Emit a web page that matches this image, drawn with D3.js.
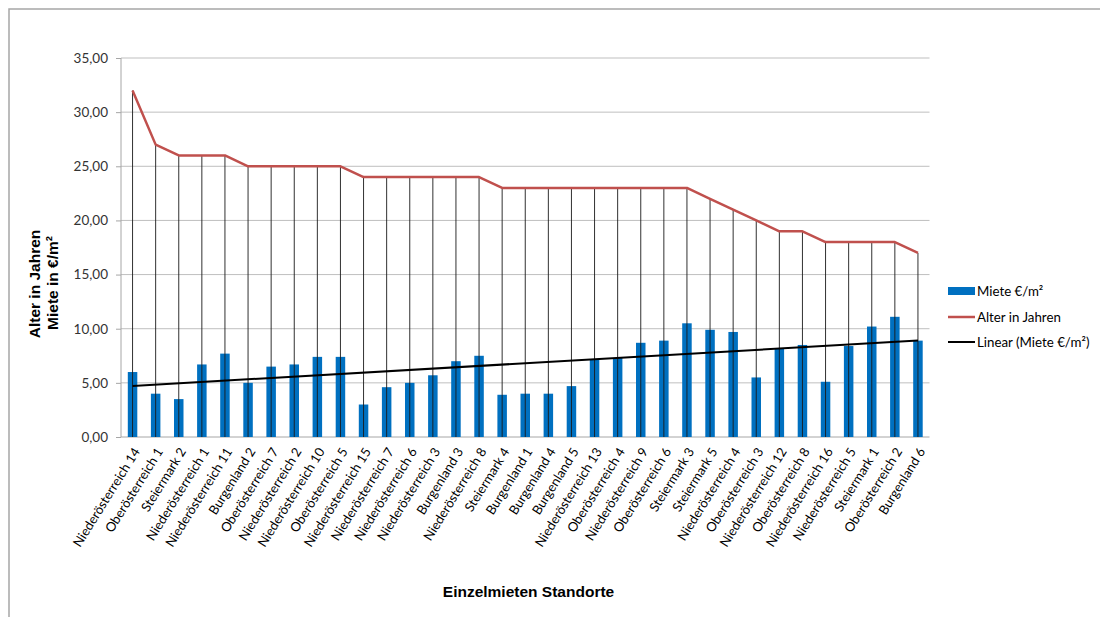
<!DOCTYPE html>
<html><head><meta charset="utf-8">
<script src="https://cdn.jsdelivr.net/npm/d3@7"></script>
<style>body{margin:0;background:#fff}svg{display:block}</style>
</head><body>
<svg id="c" width="1100" height="617"></svg>
<script>
const categories = ["Niederösterreich 14","Oberösterreich 1","Steiermark 2","Niederösterreich 1","Niederösterreich 11","Burgenland 2","Oberösterreich 7","Niederösterreich 2","Niederösterreich 10","Oberösterreich 5","Niederösterreich 15","Niederösterreich 7","Niederösterreich 6","Niederösterreich 3","Burgenland 3","Niederösterreich 8","Steiermark 4","Burgenland 1","Burgenland 4","Burgenland 5","Niederösterreich 13","Oberösterreich 4","Niederösterreich 9","Oberösterreich 6","Steiermark 3","Steiermark 5","Niederösterreich 4","Oberösterreich 3","Niederösterreich 12","Oberösterreich 8","Niederösterreich 16","Niederösterreich 5","Steiermark 1","Oberösterreich 2","Burgenland 6"];
const miete = [6.0,4.0,3.5,6.7,7.7,5.0,6.5,6.7,7.4,7.4,3.0,4.6,5.0,5.7,7.0,7.5,3.9,4.0,4.0,4.7,7.2,7.3,8.7,8.9,10.5,9.9,9.7,5.5,8.2,8.5,5.1,8.4,10.2,11.1,8.9];
const alter = [32,27,26,26,26,25,25,25,25,25,24,24,24,24,24,24,23,23,23,23,23,23,23,23,23,22,21,20,19,19,18,18,18,18,17];
const yTicks = [0,5,10,15,20,25,30,35];
const seriesNames = ["Miete €/m²","Alter in Jahren","Linear (Miete €/m²)"];

const svg = d3.select("#c");
const font = "Lato, 'Liberation Sans', sans-serif";
const bold = "'Liberation Sans', Arial, sans-serif";
const L = 121, R = 929.5, T = 58, B = 437;

// frame
svg.append("path").attr("d","M9,617V9H1100").attr("fill","none").attr("stroke","#a6a6a6").attr("stroke-width",1.5);

const x = d3.scaleBand().domain(categories).range([L,R]).paddingInner(0).paddingOuter(0);
const y = d3.scaleLinear().domain([0,35]).range([B,T]);
const cx = d => x(d) + x.bandwidth()/2;

// gridlines
svg.append("g").selectAll("line").data(yTicks.filter(t=>t>0)).join("line")
  .attr("x1",L).attr("x2",R).attr("y1",d=>y(d)).attr("y2",d=>y(d))
  .attr("stroke","#bfbfbf").attr("stroke-width",1);

// y axis
const ya = svg.append("g").attr("transform",`translate(${L},0)`)
  .call(d3.axisLeft(y).tickValues(yTicks).tickSize(5).tickPadding(8).tickFormat(d=>d3.format(".2f")(d).replace(".",",")));
ya.select(".domain").attr("stroke","#a6a6a6").attr("d",`M0,${B}V${T}`);
ya.selectAll(".tick line").attr("stroke","#a6a6a6");
ya.selectAll("text").attr("font-family",font).attr("font-size",13.5).attr("fill","#333");

// x axis baseline
svg.append("line").attr("x1",L).attr("x2",R).attr("y1",B).attr("y2",B).attr("stroke","#a6a6a6");

// bars
const bw = 9.5;
svg.append("g").selectAll("rect").data(categories).join("rect")
  .attr("x",d=>cx(d)-bw/2).attr("width",bw)
  .attr("y",(d,i)=>y(miete[i])).attr("height",(d,i)=>B-y(miete[i]))
  .attr("fill","#0070c0");

// drop lines
svg.append("g").selectAll("line").data(categories).join("line")
  .attr("x1",d=>cx(d)).attr("x2",d=>cx(d))
  .attr("y1",(d,i)=>y(alter[i])).attr("y2",B)
  .attr("stroke","#1a1a1a").attr("stroke-width",0.9);

// red line
svg.append("path").datum(categories)
  .attr("d",d3.line().x(d=>cx(d)).y((d,i)=>y(alter[i])))
  .attr("fill","none").attr("stroke","#c0504d").attr("stroke-width",2.5).attr("stroke-linejoin","round");

// linear trend (least squares on miete)
const n = miete.length, xs = d3.range(1,n+1);
const mx = d3.mean(xs), my = d3.mean(miete);
const slope = d3.sum(xs,(v,i)=>(v-mx)*(miete[i]-my))/d3.sum(xs,v=>(v-mx)*(v-mx));
const icpt = my - slope*mx;
svg.append("line")
  .attr("x1",cx(categories[0])).attr("y1",y(icpt+slope*1))
  .attr("x2",cx(categories[n-1])).attr("y2",y(icpt+slope*n))
  .attr("stroke","#000").attr("stroke-width",2);

// x labels
svg.append("g").selectAll("text").data(categories).join("text")
  .attr("transform",d=>`translate(${cx(d)+4},${B+12}) rotate(-58)`)
  .attr("text-anchor","end").attr("dy","0.35em")
  .attr("font-family",font).attr("font-size",13).attr("fill","#000")
  .text(d=>d);

// axis titles
svg.append("text").attr("transform","translate(40,284) rotate(-90)")
  .attr("text-anchor","middle").attr("font-family",bold)
  .attr("font-weight","bold").attr("font-size",15.5).text("Alter in Jahren");
svg.append("text").attr("transform","translate(58,283) rotate(-90)")
  .attr("text-anchor","middle").attr("font-family",bold)
  .attr("font-weight","bold").attr("font-size",15.5).text("Miete in €/m²");
svg.append("text").attr("x",528.5).attr("y",597)
  .attr("text-anchor","middle").attr("font-family",bold)
  .attr("font-weight","bold").attr("font-size",15.5).text("Einzelmieten Standorte");

// legend
const lg = svg.append("g").attr("transform","translate(948,0)");
const ly = [291, 317, 342];
lg.append("rect").attr("x",0).attr("y",ly[0]-4).attr("width",27).attr("height",8).attr("fill","#0070c0");
lg.append("line").attr("x1",0).attr("x2",27).attr("y1",ly[1]).attr("y2",ly[1]).attr("stroke","#c0504d").attr("stroke-width",2.5);
lg.append("line").attr("x1",0).attr("x2",27).attr("y1",ly[2]).attr("y2",ly[2]).attr("stroke","#000").attr("stroke-width",2);
lg.selectAll("text").data(seriesNames).join("text")
  .attr("x",29).attr("y",(d,i)=>ly[i]).attr("dy","0.35em")
  .attr("font-family",font).attr("font-size",13.3).attr("fill","#000").text(d=>d);
</script>
</body></html>
